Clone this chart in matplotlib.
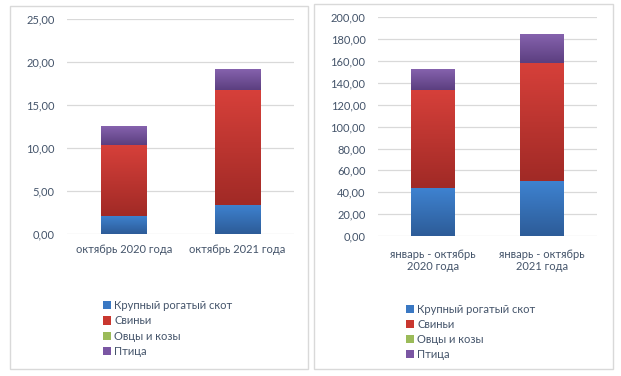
import numpy as np
import matplotlib
matplotlib.use("Agg")
import matplotlib.pyplot as plt
from matplotlib.patches import Rectangle, Patch
from matplotlib.colors import LinearSegmentedColormap

plt.rcParams['font.family'] = ['Lato', 'DejaVu Sans']

series = ["Крупный рогатый скот", "Свиньи", "Овцы и козы", "Птица"]

# октябрь
cats_left = ["октябрь 2020 года", "октябрь 2021 года"]
cattle_left = [2.10, 3.40]
pigs_left = [8.25, 13.35]
sheep_left = [0.02, 0.02]
poultry_left = [2.20, 2.35]

# январь - октябрь
cats_right = ["январь - октябрь\n2020 года", "январь - октябрь\n2021 года"]
cattle_right = [43.5, 50.0]
pigs_right = [90.0, 108.0]
sheep_right = [0.3, 0.4]
poultry_right = [19.0, 26.0]

base_colors = ["#3a78c3", "#c9372f", "#9bbb59", "#7a56a3"]
grad = [("#2d5c98", "#3e82d0"), ("#a12a26", "#d6403a"),
        ("#7f9c45", "#a9c964"), ("#5c3f80", "#8562ad")]
text_col = "#44546a"
grid_col = "#d9d9d9"


def draw_panel(fig, rect, cats, data, ymax, step, xpad):
    ax = fig.add_axes(rect)
    x = np.arange(len(cats))
    bottom = np.zeros(len(cats))
    for vals, col, (dark, light) in zip(data, base_colors, grad):
        bars = ax.bar(x, vals, 0.4, bottom=bottom, color=col, zorder=2)
        cmap = LinearSegmentedColormap.from_list("g", [dark, light])
        g = np.linspace(0, 1, 64).reshape(-1, 1)
        for b in bars:
            if b.get_height() <= 0:
                continue
            x0, y0 = b.get_x(), b.get_y()
            ax.imshow(g, extent=[x0, x0 + b.get_width(), y0, y0 + b.get_height()],
                      origin='lower', aspect='auto', cmap=cmap, zorder=3)
        bottom += np.array(vals)
    ax.set_xlim(-0.5, len(cats) - 0.5)
    ax.set_ylim(0, ymax)
    ticks = np.arange(0, ymax + step / 2, step)
    ax.set_yticks(ticks, labels=[f"{t:.2f}".replace('.', ',') for t in ticks])
    ax.set_xticks(x, labels=cats)
    ax.tick_params(length=0, labelsize=8, colors=text_col)
    ax.tick_params(axis='x', pad=xpad)
    ax.tick_params(axis='y', pad=9)
    for s in ax.spines.values():
        s.set_visible(False)
    ax.grid(axis='y', color=grid_col, lw=0.9, zorder=0)
    ax.set_axisbelow(True)
    return ax


fig = plt.figure(figsize=(6.21, 3.76), dpi=100)

fig.patches.append(Rectangle((0.0161, 0.0186), 0.4799, 0.9654, transform=fig.transFigure,
                             fill=False, edgecolor=grid_col, lw=1))
fig.patches.append(Rectangle((0.5056, 0.0186), 0.4815, 0.9707, transform=fig.transFigure,
                             fill=False, edgecolor=grid_col, lw=1))

draw_panel(fig, [0.1079, 0.3777, 0.3655, 0.5718], cats_left,
           [cattle_left, pigs_left, sheep_left, poultry_left], 25, 5, 7)
draw_panel(fig, [0.6087, 0.3723, 0.3527, 0.5816], cats_right,
           [cattle_right, pigs_right, sheep_right, poultry_right], 200, 20, 9)

handles = [Patch(facecolor=c, edgecolor='none') for c in base_colors]
for xy, sp in [((0.157, 0.217), 0.4), ((0.645, 0.206), 0.35)]:
    fig.legend(handles, series, loc='upper left', bbox_to_anchor=xy, frameon=False,
               fontsize=8, handlelength=0.75, handleheight=0.75, handletextpad=0.25,
               labelspacing=sp, borderpad=0, labelcolor=text_col)

fig.savefig("out.png", dpi=100)
